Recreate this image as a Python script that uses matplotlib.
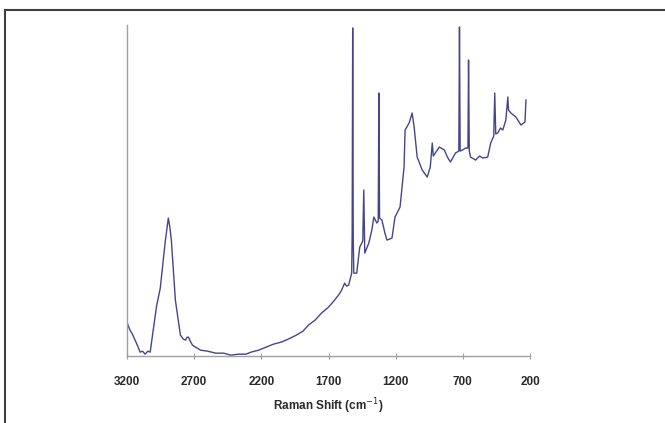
import matplotlib
matplotlib.use("Agg")
import matplotlib.pyplot as plt
from matplotlib.lines import Line2D

# Raman spectrum (wavenumber in cm-1, intensity in arbitrary units)
shift = [3200, 3190, 3177.5, 3160, 3140, 3120, 3102.5, 3085, 3065, 3045,
         3027.5, 3005, 2980, 2952.5, 2915, 2892.5, 2880, 2870, 2840, 2802.5,
         2780, 2765, 2752, 2742.5, 2725, 2712.5, 2690, 2652.5, 2600, 2540,
         2480, 2427.5, 2370, 2315, 2277.5, 2220, 2165, 2110, 2052.5, 2000,
         1940, 1890, 1850, 1800, 1752.5, 1700, 1655, 1620, 1602.5, 1580,
         1565, 1550, 1527.5, 1524, 1520, 1516, 1512, 1490, 1467.5, 1445,
         1437.5, 1430, 1400, 1377.5, 1362.5, 1340, 1330, 1325, 1320, 1302.5,
         1280, 1265, 1227.5, 1205, 1167.5, 1137.5, 1130, 1100, 1077.5, 1062.5,
         1040, 1002.5, 965, 942.5, 927.5, 920, 905, 875, 837.5, 815,
         792.5, 755, 730, 725, 720, 702.5, 680, 662, 657.5, 652,
         642.5, 605, 575, 552.5, 515, 492.5, 470, 462.5, 455, 440,
         420, 402.5, 380, 365, 360, 342.5, 305, 267.5, 237.5, 230]
intensity = [34, 30, 26, 22, 16, 10, 4, 5, 2, 5,
             4, 26, 50, 68, 115, 138, 128, 116, 56, 21,
             17, 16, 19, 19, 14, 11, 9, 6, 5, 3,
             3, 1, 2, 2, 4, 6, 9, 12, 14, 17,
             21, 25, 31, 36, 43, 49, 56, 62, 66, 73,
             70, 71, 83, 120, 328, 120, 83, 83, 109, 115,
             166, 103, 113, 126, 139, 133, 135, 263, 138, 136,
             123, 116, 118, 139, 149, 189, 226, 233, 243, 229,
             199, 186, 179, 189, 213, 200, 203, 209, 206, 199,
             194, 203, 205, 329, 205, 206, 208, 208, 296, 205,
             199, 196, 200, 198, 199, 213, 220, 263, 222, 223,
             228, 226, 236, 259, 246, 243, 239, 231, 234, 256]

xticks = [3200, 2700, 2200, 1700, 1200, 700, 200]

fig = plt.figure(figsize=(6.65, 4.23), dpi=100)
ax = fig.add_axes([0.191, 0.158, 0.606, 0.783])

ax.plot(shift, intensity, color="#45458c", linewidth=1.0)

ax.set_xlim(3200, 200)
ax.set_ylim(0, 331)
ax.set_xticks(xticks)
ax.set_xticklabels([str(t) for t in xticks], fontsize=8.5, fontweight="bold",
                   family="Liberation Sans", color="#2a2a2a")
ax.set_yticks([])
ax.set_xlabel("Raman Shift (cm$^{-1}$)", fontsize=8.5, fontweight="bold",
              family="Liberation Sans", color="#2a2a2a", labelpad=6)

for side in ["top", "right"]:
    ax.spines[side].set_visible(False)
for side in ["left", "bottom"]:
    ax.spines[side].set_color("#a0a0a0")
    ax.spines[side].set_linewidth(1.0)
ax.tick_params(axis="x", direction="inout", length=4, color="#a0a0a0", pad=12)

# frame lines of the cropped page
fig.add_artist(Line2D([5 / 665, 1], [1 - 10 / 423, 1 - 10 / 423],
                      transform=fig.transFigure, color="#404040", linewidth=1.5))
fig.add_artist(Line2D([5 / 665, 5 / 665], [0, 1 - 10 / 423],
                      transform=fig.transFigure, color="#404040", linewidth=1.5))

fig.savefig("out.png", dpi=100)
